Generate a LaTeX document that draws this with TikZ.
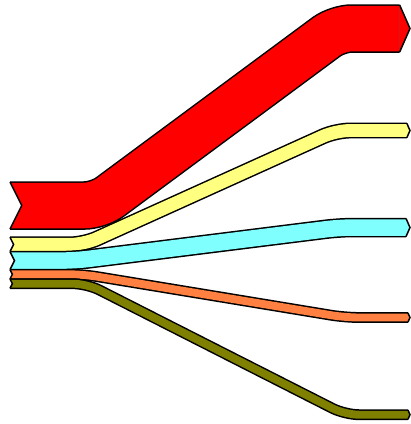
\documentclass[tikz,border=0pt]{standalone}
\definecolor{flowred}{RGB}{255,0,0}
\definecolor{flowyellow}{RGB}{255,255,128}
\definecolor{flowcyan}{RGB}{128,255,255}
\definecolor{floworange}{RGB}{255,128,64}
\definecolor{flowolive}{RGB}{128,128,0}
\begin{document}
\begin{tikzpicture}[
        x=1pt, y=-1pt,
        band/.style={line width=1.5pt, draw=black, double=#1, rounded corners=14pt},
        flowend/.style={line width=1.5pt, draw=black, line join=miter}
    ]
    \useasboundingbox (0,0) rectangle (411,424);
    \def\xs{10}
    \def\xt{410}
    % colour / left y / right y / width / left bend / right bend
    \def\flows{flowred/205.5/28.5/47/98.5/337.7,
        flowyellow/244.4/130.5/14.4/84/336,
        flowcyan/260.6/227.5/18/75/340,
        floworange/274.3/317.5/9.4/83/345,
        flowolive/283.7/414.7/9.4/87/345}

    % bands
    \foreach \col/\yl/\yr/\w/\xl/\xr in \flows {
        \pgfmathsetmacro\gap{\w-1.5}
        \pgfmathsetmacro\xe{\xt-0.22*\w}
        \draw[band=\col, double distance=\gap pt]
            (\xs,\yl) -- (\xl,\yl) -- (\xr,\yr) -- (\xe,\yr);
    }

    % tails and heads
    \foreach \col/\yl/\yr/\w/\xl/\xr in \flows {
        \pgfmathsetmacro\h{\w/2}
        \pgfmathsetmacro\xe{\xt-0.22*\w}
        \path[flowend, fill=white] (\xs,{\yl-\h}) -- ({\xs+0.25*\w},\yl) -- (\xs,{\yl+\h});
        \path[flowend, fill=\col] (\xe,{\yr-\h}) -- (\xt,\yr) -- (\xe,{\yr+\h});
    }
\end{tikzpicture}
\end{document}
